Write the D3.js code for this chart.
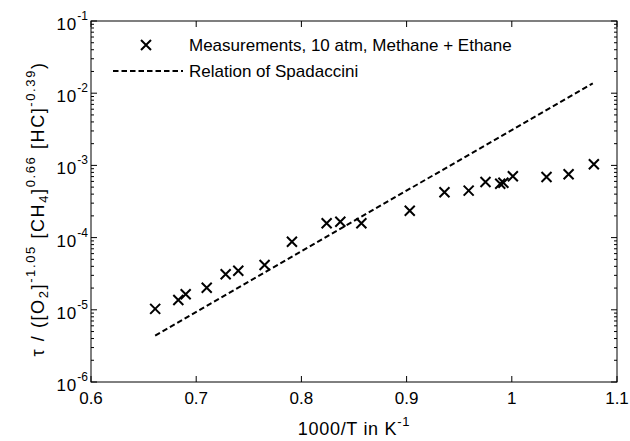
<!DOCTYPE html>
<html>
<head>
<meta charset="utf-8">
<script src="https://cdn.jsdelivr.net/npm/d3@7"></script>
<style>
  body { margin: 0; background: #fff; }
  text { font-family: "Liberation Sans", Arial, sans-serif; fill: #000; }
</style>
</head>
<body>
<div id="chart"></div>
<script>
// measured ignition delays (1000/T, normalised tau)
measX = [0.661, 0.683, 0.690, 0.710, 0.728, 0.740, 0.765, 0.791, 0.824, 0.837, 0.857,
         0.903, 0.936, 0.959, 0.975, 0.989, 0.992, 1.001, 1.033, 1.054, 1.078]
measY = [1.03e-5, 1.37e-5, 1.64e-5, 2.02e-5, 3.10e-5, 3.48e-5, 4.17e-5, 8.77e-5, 1.58e-4, 1.66e-4, 1.58e-4,
         2.36e-4, 4.24e-4, 4.47e-4, 5.89e-4, 5.58e-4, 5.75e-4, 7.06e-4, 6.90e-4, 7.53e-4, 1.035e-3]
// Spadaccini correlation, end points of the straight (Arrhenius) line
spadX = [0.661, 1.077]
spadY = [4.4e-6, 1.37e-2]

xTicks = [0.6, 0.7, 0.8, 0.9, 1.0, 1.1]
xTickLabels = ["0.6", "0.7", "0.8", "0.9", "1", "1.1"]
yExponents = [-1, -2, -3, -4, -5, -6]
legendLabels = ["Measurements, 10 atm, Methane + Ethane", "Relation of Spadaccini"]

const W = 630, H = 441
const margin = { top: 21, right: 13, bottom: 59, left: 91 }
const fs = 17, supFs = 12

const svg = d3.select("#chart").append("svg")
  .attr("width", W).attr("height", H)

const x = d3.scaleLinear().domain([0.6, 1.1]).range([margin.left, W - margin.right])
const y = d3.scaleLog().domain([1e-6, 1e-1]).range([H - margin.bottom, margin.top])

const x0 = x.range()[0], x1 = x.range()[1]
const y0 = y.range()[0], y1 = y.range()[1]

// ticks (inward, on all four sides)
const tickG = svg.append("g").attr("stroke", "#000").attr("stroke-width", 1)
xTicks.forEach(v => {
  tickG.append("line").attr("x1", x(v)).attr("x2", x(v)).attr("y1", y0).attr("y2", y0 - 6)
  tickG.append("line").attr("x1", x(v)).attr("x2", x(v)).attr("y1", y1).attr("y2", y1 + 6)
})
// log ticks: majors at 10^n, minors at 2..9 x 10^n
let yTickVals = []
for (let e = -6; e < -1; e++) {
  for (let m = 1; m <= 9; m++) yTickVals.push([m * Math.pow(10, e), m === 1])
}
yTickVals.push([0.1, true])
yTickVals.forEach(([v, major]) => {
  const len = major ? 6 : 3
  tickG.append("line").attr("x1", x0).attr("x2", x0 + len).attr("y1", y(v)).attr("y2", y(v))
  tickG.append("line").attr("x1", x1).attr("x2", x1 - len).attr("y1", y(v)).attr("y2", y(v))
})

// frame
svg.append("rect")
  .attr("x", x0).attr("y", y1).attr("width", x1 - x0).attr("height", y0 - y1)
  .attr("fill", "none").attr("stroke", "#000").attr("stroke-width", 1)

// x tick labels
svg.append("g").selectAll("text")
  .data(xTicks)
  .join("text")
  .attr("x", d => x(d))
  .attr("y", y0 + 22)
  .attr("text-anchor", "middle")
  .style("font-size", fs + "px")
  .text((d, i) => xTickLabels[i])

// y tick labels 10^n
const yl = svg.append("g").selectAll("text")
  .data(yExponents)
  .join("text")
  .attr("x", x0 - 3)
  .attr("y", d => y(Math.pow(10, d)) + 9)
  .attr("text-anchor", "end")
  .style("font-size", fs + "px")
yl.append("tspan").style("letter-spacing", "1px").text("10")
yl.append("tspan").attr("dy", -10).style("font-size", supFs + "px").text(d => d)

// x label
const xl = svg.append("text")
  .attr("x", (x0 + x1) / 2)
  .attr("y", H - 6)
  .attr("text-anchor", "middle")
  .style("font-size", "18px")
  .style("letter-spacing", "0.7px")
xl.append("tspan").text("1000/T in K")
xl.append("tspan").attr("dy", -9).style("font-size", "13px").text("-1")

// y label (rotated)
const ylab = svg.append("text")
  .attr("transform", `translate(44, 209) rotate(-90)`)
  .attr("text-anchor", "middle")
  .style("font-size", "18px")
  .style("letter-spacing", "1.6px")
ylab.append("tspan").text("\u03c4 / ([O")
ylab.append("tspan").attr("dy", 4).style("font-size", "13px").text("2")
ylab.append("tspan").attr("dy", -4).text("]")
ylab.append("tspan").attr("dy", -9).style("font-size", "13px").text("-1.05")
ylab.append("tspan").attr("dy", 9).text(" [CH")
ylab.append("tspan").attr("dy", 4).style("font-size", "13px").text("4")
ylab.append("tspan").attr("dy", -4).text("]")
ylab.append("tspan").attr("dy", -9).style("font-size", "13px").text("0.66")
ylab.append("tspan").attr("dy", 9).text(" [HC]")
ylab.append("tspan").attr("dy", -9).style("font-size", "13px").text("-0.39")
ylab.append("tspan").attr("dy", 9).text(")")

// Spadaccini line
const line = d3.line().x(d => x(d[0])).y(d => y(d[1]))
svg.append("path")
  .datum(d3.zip(spadX, spadY))
  .attr("d", line)
  .attr("fill", "none")
  .attr("stroke", "#000")
  .attr("stroke-width", 2)
  .attr("stroke-dasharray", "5.5,3")

// measurement markers (x)
const r = 5
function cross(cx, cy) {
  return `M${cx - r},${cy - r}L${cx + r},${cy + r}M${cx - r},${cy + r}L${cx + r},${cy - r}`
}
svg.append("g").selectAll("path")
  .data(d3.zip(measX, measY))
  .join("path")
  .attr("d", d => cross(x(d[0]), y(d[1])))
  .attr("stroke", "#000")
  .attr("stroke-width", 2)
  .attr("fill", "none")

// legend
const leg = svg.append("g")
leg.append("path").attr("d", cross(146, 45))
  .attr("stroke", "#000").attr("stroke-width", 2).attr("fill", "none")
leg.append("line").attr("x1", 113).attr("x2", 183).attr("y1", 71).attr("y2", 71)
  .attr("stroke", "#000").attr("stroke-width", 2).attr("stroke-dasharray", "5.5,3")
leg.selectAll("text")
  .data(legendLabels)
  .join("text")
  .attr("x", 189)
  .attr("y", (d, i) => 51 + i * 26)
  .style("font-size", fs + "px")
  .text(d => d)
</script>
</body>
</html>
